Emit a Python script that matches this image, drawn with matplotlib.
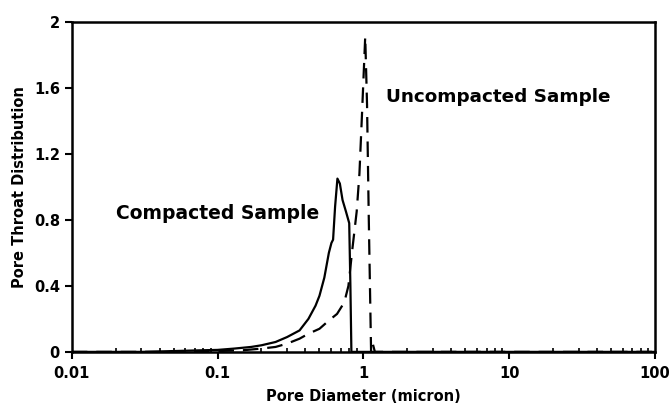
import numpy as np
import matplotlib.pyplot as plt
from matplotlib.ticker import FixedLocator, LogLocator, NullFormatter

plt.rcParams['font.family'] = ['DejaVu Sans']
plt.rcParams['font.weight'] = 'bold'

# Compacted sample (solid line)
comp_x = [0.01, 0.03, 0.05, 0.08, 0.1, 0.13, 0.17, 0.2, 0.25, 0.3, 0.365, 0.42,
          0.47, 0.5, 0.54, 0.58, 0.604, 0.62, 0.64, 0.664, 0.69, 0.72, 0.76, 0.8, 0.815, 0.828,
          0.9, 1.2, 3, 10, 100]
comp_y = [0.0, 0.0, 0.005, 0.01, 0.012, 0.02, 0.03, 0.04, 0.06, 0.09, 0.13, 0.2,
          0.28, 0.34, 0.45, 0.6, 0.66, 0.68, 0.88, 1.05, 1.02, 0.92, 0.85, 0.78, 0.4, 0.0,
          0.0, 0.0, 0.0, 0.0, 0.0]

# Uncompacted sample (dashed line)
unc_x = [0.01, 0.05, 0.1, 0.15, 0.2, 0.25, 0.3, 0.365, 0.42, 0.5, 0.58, 0.66, 0.74,
         0.79, 0.84, 0.9, 0.94, 0.98, 1.03, 1.06, 1.09, 1.13, 1.16, 1.2, 1.5, 3, 10, 100]
unc_y = [0.0, 0.0, 0.005, 0.01, 0.02, 0.03, 0.05, 0.08, 0.11, 0.14, 0.19, 0.23, 0.3,
         0.4, 0.62, 0.85, 1.08, 1.45, 1.91, 1.5, 0.8, 0.0, 0.05, 0.0, 0.0, 0.0, 0.0, 0.0]

y_ticks = [0, 0.4, 0.8, 1.2, 1.6, 2]
y_labels = ['0', '0.4', '0.8', '1.2', '1.6', '2']
x_ticks = [0.01, 0.1, 1, 10, 100]
x_labels = ['0.01', '0.1', '1', '10', '100']

fig = plt.figure(figsize=(6.71, 4.04), dpi=100)
ax = fig.add_axes([0.107, 0.129, 0.869, 0.817])

ax.plot(comp_x, comp_y, color='black', lw=1.6)
ax.plot(unc_x, unc_y, color='black', lw=1.6, dashes=(7, 4))

ax.set_xscale('log')
ax.set_xlim(0.01, 100)
ax.set_ylim(0, 2)

ax.xaxis.set_major_locator(FixedLocator(x_ticks))
ax.set_xticklabels(x_labels)
ax.xaxis.set_minor_locator(LogLocator(base=10, subs=np.arange(2, 10)))
ax.xaxis.set_minor_formatter(NullFormatter())
ax.set_yticks(y_ticks)
ax.set_yticklabels(y_labels)

ax.tick_params(axis='both', which='major', direction='out', length=5, width=1.5, labelsize=10.5)
ax.tick_params(axis='x', which='major', pad=5)
ax.tick_params(axis='x', which='minor', direction='in', length=3, width=1.2)
for s in ax.spines.values():
    s.set_linewidth(1.8)

ax.set_xlabel('Pore Diameter (micron)', fontsize=10.5, fontweight='bold', labelpad=6)
ax.set_ylabel('Pore Throat Distribution', fontsize=10.5, fontweight='bold', labelpad=5)

ax.text(0.1, 0.836, 'Compacted Sample', fontsize=13.5, fontweight='bold', ha='center', va='center')
ax.text(8.4, 1.545, 'Uncompacted Sample', fontsize=13.2, fontweight='bold', ha='center', va='center')

fig.savefig('out.png', dpi=100)
